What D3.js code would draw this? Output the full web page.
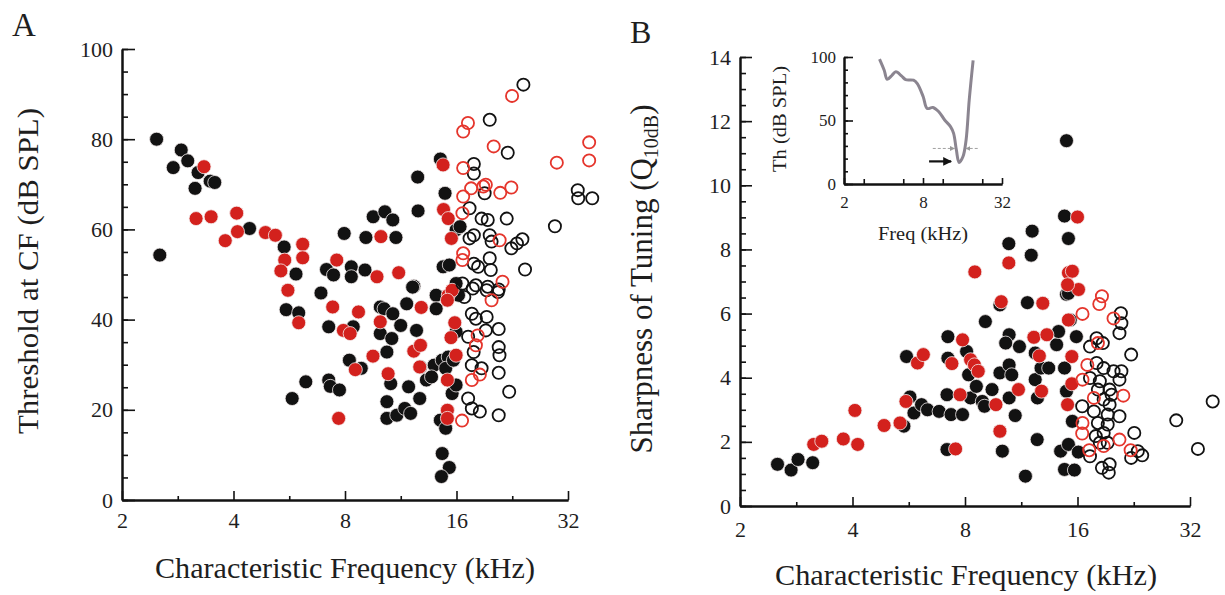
<!DOCTYPE html>
<html lang="en">
<head>
<meta charset="UTF-8" />
<title>Threshold and Q10dB vs CF</title>
<script src="https://d3js.org/d3.v7.min.js"></script>
<style>
  body { margin: 0; background: #fff; }
  svg text { font-family: "Liberation Serif", "DejaVu Serif", serif; fill: #1e1e1e; }
</style>
</head>
<body>
<svg id="fig" width="1225" height="595"></svg>
<script>
// ---- panel A: threshold at CF (kHz, dB SPL) ----
const thrFilledBlack = [
  [2.48,80],[2.53,54.3],[2.75,73.7],[2.89,77.6],[3.01,75.2],[3.15,69.1],[3.21,72.6],[3.46,70.7],[3.56,70.4],
  [4.42,60.2],[5.48,56.1],[5.9,50.1],[6.89,45.9],[7.13,51.1],[7.45,49.9],[7.96,59.1],[8.32,51.7],[8.32,49.5],
  [9.06,51.0],[9.11,58.2],[9.53,62.8],[10.25,63.9],[10.77,62.1],[10.98,58.2],[12.27,47.4],[12.57,71.6],[12.6,64.1],
  [14.47,75.6],[14.9,68.0],[14.72,51.7],[15.3,52.1],[14.1,45.4],[15.96,48.0],[15.96,59.9],[16.36,60.6],
  [5.76,22.5],[5.55,42.2],[6.0,41.5],[6.27,26.2],[7.23,38.4],[7.23,26.6],[7.3,25.2],[7.73,24.4],[8.22,31.0],
  [8.42,38.4],[8.85,29.2],[9.96,42.8],[10.2,42.4],[9.96,36.9],[10.77,41.3],[10.7,35.8],[10.38,32.8],[10.63,25.8],
  [10.38,21.8],[10.38,18.1],[11.04,18.8],[11.6,20.3],[11.31,38.7],[11.74,43.5],[12.18,47.2],[12.48,37.6],[11.88,25.1],
  [12.03,19.2],[12.73,22.5],[13.27,26.6],[12.79,29.5],[13.93,29.9],[13.7,27.3],[14.1,42.4],[14.64,10.3],[15.3,7.2],
  [14.57,5.2],[14.47,17.7],[14.96,15.9],[14.64,31.0],[15.2,31.7],[14.96,29.2],[15.57,23.6],[15.96,25.5],[15.7,31.0],
  [16.2,45.4],[15.96,37.3]
];
const thrFilledRed = [
  [3.33,73.9],[3.17,62.4],[3.48,62.8],[3.8,57.5],[4.08,63.6],[4.1,59.5],[4.88,59.3],[5.19,58.7],[5.5,53.2],
  [5.37,50.8],[6.15,56.7],[6.15,53.7],[5.61,46.5],[7.6,53.2],[9.76,49.5],[10.0,58.4],[11.17,50.4],[14.72,74.3],
  [14.76,64.4],[15.2,62.4],[15.5,58.0],[15.2,45.4],[15.57,46.5],
  [6.0,39.3],[7.41,42.8],[7.69,18.1],[7.92,37.6],[8.26,36.9],[8.7,41.7],[8.53,28.9],[9.52,31.9],[9.96,39.5],
  [10.46,28.0],[12.27,33.0],[12.79,34.3],[12.85,42.7],[12.73,29.5],[15.12,44.3],[15.83,39.3],[15.46,36.0],
  [15.96,32.1],[15.12,26.6],[15.12,19.9],[15.12,18.1]
];
const thrOpenBlack = [
  [24.25,92.1],[19.67,84.3],[22.0,77.0],[17.82,74.5],[17.82,72.4],[19.06,68.0],[17.35,64.7],[18.7,62.4],[19.43,62.1],
  [21.86,62.4],[17.82,58.7],[17.35,58.0],[19.67,58.7],[19.9,57.3],[22.5,55.8],[24.1,57.8],[23.3,56.9],[29.5,60.7],
  [34.0,68.7],[34.1,66.9],[37.2,66.9],[17.82,52.4],[19.67,53.6],[18.3,51.7],[19.8,51.0],[24.5,51.1],[16.6,48.0],
  [18.05,47.6],[19.43,47.3],[17.7,46.9],[20.8,46.7],
  [17.6,41.3],[18.05,40.2],[19.3,40.6],[20.8,37.9],[20.8,33.9],[20.9,32.1],[19.2,37.6],[17.8,32.8],[17.6,29.9],
  [18.7,29.2],[17.2,36.2],[20.8,28.2],[22.2,24.0],[20.8,18.8],[18.5,19.6],[17.6,20.3],[17.2,22.5],[16.8,45.0],
  [19.3,46.5],[20.7,46.1]
];
const thrOpenRed = [
  [16.68,81.7],[17.18,83.6],[22.6,89.6],[20.16,78.4],[16.68,73.6],[16.68,67.3],[17.52,69.1],[18.9,69.5],[19.2,69.9],
  [21.0,68.1],[22.5,69.3],[29.85,74.8],[36.5,79.3],[36.5,75.3],[16.6,63.6],[20.92,57.6],[16.68,54.7],[16.6,53.2],
  [21.3,48.4],[19.9,44.3],[18.25,36.5],[18.05,34.3],[17.6,26.6],[18.5,27.8],[16.56,17.6]
];

// ---- panel B: sharpness of tuning Q10dB ----
const qFilledBlack = [
  [14.95,11.39],[14.77,9.04],[15.13,8.34],[12.1,8.57],[12.03,7.82],[10.48,8.18],[14.95,6.6],
  [2.52,1.30],[2.74,1.12],[2.86,1.45],[3.13,1.35],[5.58,4.66],[5.7,3.40],[5.84,2.90],[5.49,2.49],[6.12,3.16],
  [6.35,3.0],[6.82,2.95],[7.2,5.28],[7.2,4.61],[7.16,3.47],[7.34,2.85],[7.88,2.85],[7.16,1.76],[8.08,4.82],
  [8.18,4.09],[8.28,3.37],[8.58,3.73],[8.9,3.26],[9.02,3.11],[9.45,3.63],[9.07,5.75],[9.92,6.27],[9.92,4.15],
  [10.5,5.34],[10.28,5.08],[10.5,4.4],[10.67,4.09],[10.5,3.37],[10.9,2.82],[10.07,1.71],[11.19,4.97],[11.61,0.93],
  [11.75,6.34],[12.33,4.77],[12.48,2.07],[12.33,3.94],[12.78,4.3],[12.5,3.37],[13.4,4.3],[14.07,5.03],[14.24,5.44],
  [14.77,4.3],[14.95,3.58],[14.42,1.71],[15.13,1.92],[14.77,1.14],[15.7,1.12],[16.08,1.68],[15.5,2.64],[15.89,5.28],
  [15.3,5.8],[15.13,6.63]
];
const qFilledRed = [
  [16.0,9.01],[10.48,7.58],[8.5,7.3],[15.13,7.27],[15.5,7.32],[16.1,6.75],[15.05,6.9],
  [3.15,1.92],[3.31,2.02],[3.78,2.09],[4.06,2.98],[4.13,1.92],[4.86,2.51],[5.36,2.59],[5.56,3.26],[5.97,4.46],
  [6.19,4.72],[7.38,4.44],[7.76,3.47],[7.55,1.78],[7.88,5.18],[8.28,4.56],[8.48,4.4],[8.68,4.2],[9.68,3.16],
  [9.92,2.33],[10.0,6.37],[11.12,3.63],[12.23,5.26],[12.65,4.68],[12.82,3.58],[12.92,6.32],[13.25,5.34],
  [15.13,5.8],[15.45,4.66],[15.45,3.81],[15.05,3.16]
];
const qOpenBlack = [
  [20.9,6.01],[20.97,5.7],[20.72,5.39],[18.0,5.23],[17.28,4.97],[18.7,5.08],[22.27,4.72],[18.0,4.46],[18.8,4.3],
  [19.98,4.2],[20.97,4.2],[20.72,3.94],[17.28,3.99],[18.36,3.89],[18.14,3.63],[19.5,3.63],[19.74,3.47],[18.8,3.32],
  [16.47,3.11],[17.7,2.95],[19.5,3.16],[19.27,2.85],[20.72,2.8],[18.14,2.59],[19.27,2.54],[18.8,2.28],[17.9,2.18],
  [22.7,2.28],[18.36,1.97],[19.27,1.97],[17.28,1.55],[18.6,1.19],[19.5,1.3],[19.4,1.04],[22.27,1.5],[23.84,1.58],
  [23.2,1.71],[29.4,2.67],[33.6,1.78],[36.8,3.26]
];
const qOpenRed = [
  [18.6,6.54],[18.3,6.3],[16.5,5.99],[19.98,5.85],[18.14,5.08],[17.0,4.4],[16.5,3.94],[17.7,3.37],[21.22,3.44],
  [16.5,2.59],[16.47,2.26],[17.2,1.74],[18.8,1.87],[20.72,2.07],[22.2,1.74]
];

// ---- inset: example tuning curve ----
const insetFreq = [3.73,4.05,4.27,4.64,4.97,5.51,5.9,6.77,7.24,8.03,8.6,9.53,10.56,11.7,12.96,13.69,14.36,15.07,16.14,17.04,18.0,19.28];
const insetTh   = [98.4,89.6,82.5,85.6,88.3,84.9,82.2,81.7,79.1,68.7,59.5,60.3,56.9,50.4,45.2,39.9,26.9,17.0,21.7,34.7,66.1,97.4];
const thArrowCF = [8.9, 13.1], thArrowLevel = 17.8;
const bwLeftCF = [9.5, 13.9], bwRightCF = [20.9, 17.0], bwLevel = 28;

const octaveTicks = [2, 4, 8, 16, 32];
const halfOctaveTicks = [2 * Math.SQRT2, 4 * Math.SQRT2, 8 * Math.SQRT2, 16 * Math.SQRT2];
const thrTicks = [0, 20, 40, 60, 80, 100];
const qTicks = [0, 2, 4, 6, 8, 10, 12, 14];
const insetThTicks = [0, 50, 100];
const insetFreqTicks = [2, 8, 32];

const BLACK = "#121212", RED = "#d3211d", RED_OPEN = "#e5352c";

const svg = d3.select("#fig");

svg.append("marker").attr("id", "headBlack").attr("viewBox", "0 0 10 10")
    .attr("refX", 9).attr("refY", 5).attr("markerWidth", 4).attr("markerHeight", 4).attr("orient", "auto")
  .append("path").attr("d", "M0,0L10,5L0,10z").attr("fill", BLACK);
svg.append("marker").attr("id", "headGray").attr("viewBox", "0 0 10 10")
    .attr("refX", 9).attr("refY", 5).attr("markerWidth", 5).attr("markerHeight", 5).attr("orient", "auto")
  .append("path").attr("d", "M0,0L10,5L0,10z").attr("fill", "#9a9a9a");

function styleAxis(g, size) {
  g.attr("font-family", null).attr("font-size", null);
  g.select(".domain").attr("stroke", BLACK).attr("stroke-width", 2);
  g.selectAll(".tick line").attr("stroke", BLACK).attr("stroke-width", 1.6);
  g.selectAll("text").style("font-size", size + "px").attr("fill", "#1e1e1e");
}

function panel(o) {
  const x = d3.scaleLog().base(2).domain([2, 32]).range([o.x0, o.x1]);
  const y = d3.scaleLinear().domain(o.yDomain).range([o.yBot, o.yTop]);

  // minor ticks first, then labelled ticks
  const gx = svg.append("g").attr("transform", `translate(0,${o.yBot})`);
  gx.call(d3.axisBottom(x).tickValues(halfOctaveTicks).tickSize(-o.minorX).tickSizeOuter(0).tickFormat(""));
  styleAxis(gx, o.tickFont);
  const gx2 = svg.append("g").attr("transform", `translate(0,${o.yBot})`);
  gx2.call(d3.axisBottom(x).tickValues(o.xTicks).tickSize(-o.majorX).tickSizeOuter(0)
      .tickPadding(o.xPad).tickFormat(d3.format("d")));
  styleAxis(gx2, o.tickFont);

  const gy = svg.append("g").attr("transform", `translate(${o.x0},0)`);
  gy.call(d3.axisLeft(y).tickValues(d3.range(o.yDomain[0], o.yDomain[1] + 1e-9, o.yMinorStep))
      .tickSize(-o.minorY).tickSizeOuter(0).tickFormat(""));
  styleAxis(gy, o.tickFont);
  const gy2 = svg.append("g").attr("transform", `translate(${o.x0},0)`);
  gy2.call(d3.axisLeft(y).tickValues(o.yTicks).tickSize(-o.majorY).tickSizeOuter(0).tickPadding(o.yPad));
  styleAxis(gy2, o.tickFont);
  return { x, y };
}

function dots(s, data, fill, ring) {
  svg.append("g").selectAll("circle").data(data).join("circle")
    .attr("cx", d => s.x(d[0])).attr("cy", d => s.y(d[1]))
    .attr("r", fill ? 7 : 6.1)
    .attr("fill", fill || "none")
    .attr("stroke", fill ? "#f4eeee" : ring)
    .attr("stroke-width", fill ? 0.8 : 1.8);
}

function allDots(s, fb, fr, ob, or) {
  dots(s, fb, BLACK);
  dots(s, fr, RED);
  dots(s, ob, null, BLACK);
  dots(s, or, null, RED_OPEN);
}

// ----- Panel A -----
const sA = panel({ x0: 122, x1: 568, yTop: 49, yBot: 500, yDomain: [0, 100],
  xTicks: octaveTicks, yTicks: thrTicks, yMinorStep: 5,
  majorX: 9, minorX: 4, majorY: 13, minorY: 6, xPad: 12, yPad: 9, tickFont: 22 });
allDots(sA, thrFilledBlack, thrFilledRed, thrOpenBlack, thrOpenRed);

svg.append("text").attr("x", 345).attr("y", 578).attr("text-anchor", "middle")
  .style("font-size", "30px").attr("textLength", 380).attr("lengthAdjust", "spacingAndGlyphs")
  .text("Characteristic Frequency (kHz)");
svg.append("text").attr("transform", "translate(38,271) rotate(-90)").attr("text-anchor", "middle")
  .style("font-size", "30px").attr("textLength", 326).attr("lengthAdjust", "spacingAndGlyphs")
  .text("Threshold at CF (dB SPL)");
svg.append("text").attr("x", 12).attr("y", 36).style("font-size", "33px").text("A");

// ----- Panel B -----
const sB = panel({ x0: 740, x1: 1190, yTop: 57, yBot: 506, yDomain: [0, 14],
  xTicks: octaveTicks, yTicks: qTicks, yMinorStep: 0.5,
  majorX: 9, minorX: 4, majorY: 12, minorY: 6, xPad: 15, yPad: 9, tickFont: 22 });
allDots(sB, qFilledBlack, qFilledRed, qOpenBlack, qOpenRed);

svg.append("text").attr("x", 966).attr("y", 585).attr("text-anchor", "middle")
  .style("font-size", "30px").attr("textLength", 382).attr("lengthAdjust", "spacingAndGlyphs")
  .text("Characteristic Frequency (kHz)");
const qLab = svg.append("text").attr("transform", "translate(652,279) rotate(-90)")
  .attr("text-anchor", "middle").style("font-size", "31px");
qLab.append("tspan").text("Sharpness of Tuning (Q");
qLab.append("tspan").attr("dy", 6).style("font-size", "20px").text("10dB");
qLab.append("tspan").attr("dy", -6).text(")");
svg.append("text").attr("x", 630).attr("y", 43).style("font-size", "32px").text("B");

// ----- Inset -----
const sI = panel({ x0: 844, x1: 1002, yTop: 57, yBot: 184, yDomain: [0, 100],
  xTicks: insetFreqTicks, yTicks: insetThTicks, yMinorStep: 10,
  majorX: 6, minorX: 5, majorY: 9, minorY: 4, xPad: 12, yPad: 8, tickFont: 17 });

const curve = insetFreq.map((f, i) => [f, insetTh[i]]);
svg.append("path")
  .attr("d", d3.line().x(d => sI.x(d[0])).y(d => sI.y(d[1])).curve(d3.curveCatmullRom)(curve))
  .attr("fill", "none").attr("stroke", "#8b8590").attr("stroke-width", 3);

svg.append("line")
  .attr("x1", sI.x(thArrowCF[0])).attr("x2", sI.x(thArrowCF[1]))
  .attr("y1", sI.y(thArrowLevel)).attr("y2", sI.y(thArrowLevel))
  .attr("stroke", BLACK).attr("stroke-width", 2.2).attr("marker-end", "url(#headBlack)");
[bwLeftCF, bwRightCF].forEach(cf => {
  svg.append("line")
    .attr("x1", sI.x(cf[0])).attr("x2", sI.x(cf[1]))
    .attr("y1", sI.y(bwLevel)).attr("y2", sI.y(bwLevel))
    .attr("stroke", "#a0a0a0").attr("stroke-width", 1).attr("stroke-dasharray", "3,2")
    .attr("marker-end", "url(#headGray)");
});

svg.append("text").attr("x", 923).attr("y", 240).attr("text-anchor", "middle")
  .style("font-size", "18px").attr("textLength", 90).attr("lengthAdjust", "spacingAndGlyphs")
  .text("Freq (kHz)");
svg.append("text").attr("transform", "translate(786,119) rotate(-90)").attr("text-anchor", "middle")
  .style("font-size", "18px").attr("textLength", 106).attr("lengthAdjust", "spacingAndGlyphs")
  .text("Th (dB SPL)");
</script>
</body>
</html>
